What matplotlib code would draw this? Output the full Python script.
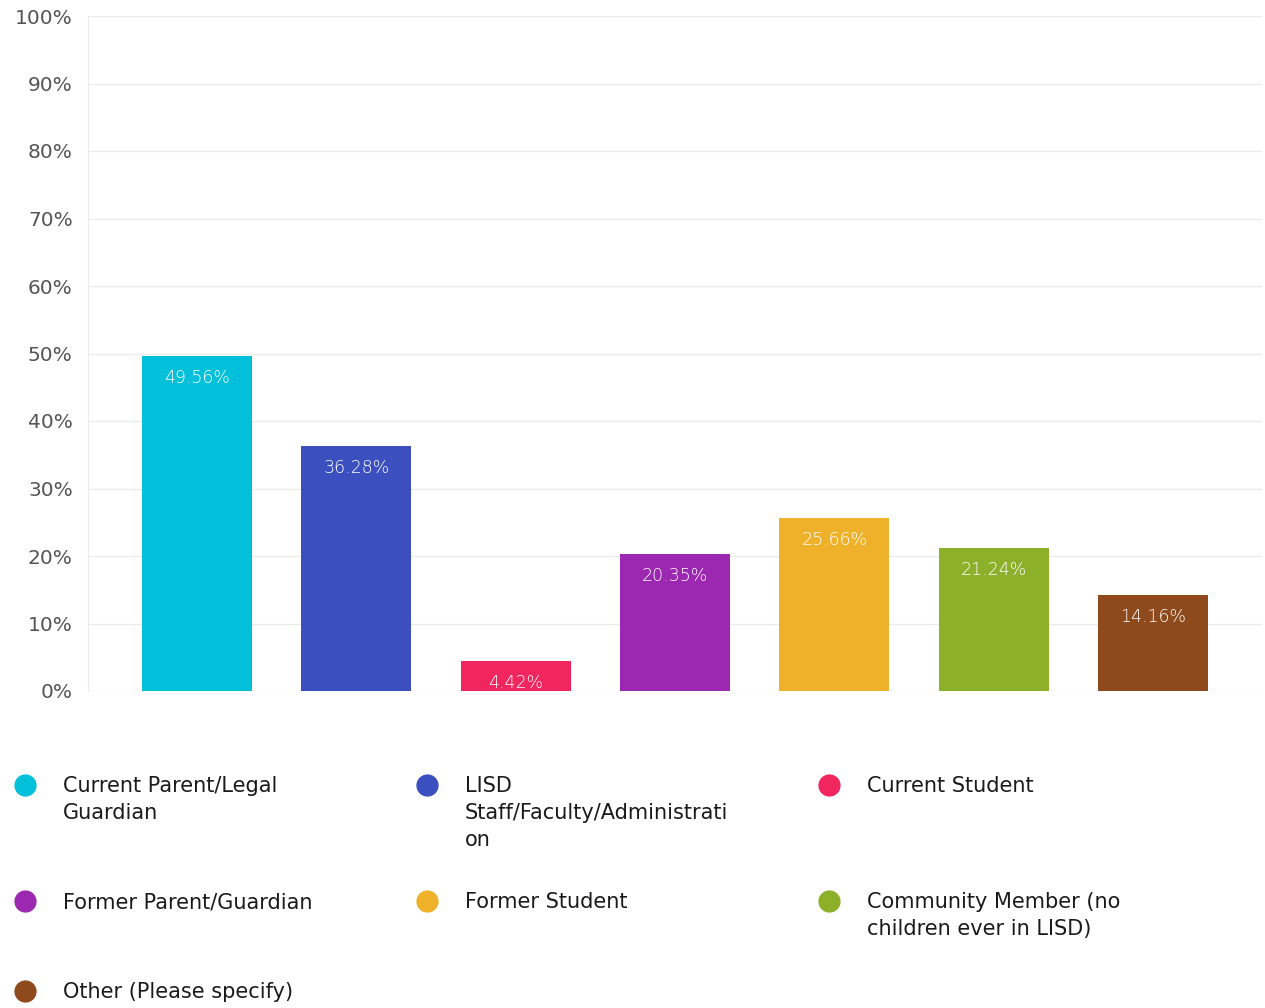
import matplotlib
matplotlib.use("Agg")
import matplotlib.pyplot as plt
from matplotlib.lines import Line2D

plt.rcParams["font.family"] = ["DejaVu Sans"]

categories = ["Current Parent/Legal\nGuardian",
              "LISD\nStaff/Faculty/Administrati\non",
              "Current Student",
              "Former Parent/Guardian",
              "Former Student",
              "Community Member (no\nchildren ever in LISD)",
              "Other (Please specify)"]
values = [49.56, 36.28, 4.42, 20.35, 25.66, 21.24, 14.16]
colors = ["#03C0DA", "#3B4FBF", "#F2265F", "#9C27B0", "#F0B12A", "#8DB02B", "#8E4A1C"]
yticks = [0, 10, 20, 30, 40, 50, 60, 70, 80, 90, 100]

W, H = 1265, 1008
fig = plt.figure(figsize=(W / 100, H / 100), dpi=100)
ax = fig.add_axes([88 / W, 1 - 691 / H, (1262 - 88) / W, (691 - 16) / H])

x = list(range(len(values)))
bars = ax.bar(x, values, width=0.69, color=colors, zorder=3)
for b, v in zip(bars, values):
    ax.annotate(f"{v:.2f}%", (b.get_x() + b.get_width() / 2, v),
                xytext=(0, -22), textcoords="offset pixels",
                ha="center", va="center", color="white", fontsize=12.5,
                fontweight="light", zorder=4)

ax.set_xlim(-0.684, 6.684)
ax.set_ylim(0, 100)
ax.set_yticks(yticks)
ax.set_yticklabels([f"{t}%" for t in yticks], fontsize=14.5, color="#555555")
ax.tick_params(axis="y", length=0, pad=11)
ax.set_xticks([])
ax.grid(axis="y", color="#EBEBEB", linewidth=1, zorder=0)
for s in ["top", "right", "bottom"]:
    ax.spines[s].set_visible(False)
ax.spines["left"].set_color("#EBEBEB")

# legend (manual, 3 columns)
col_x = [25, 427, 829]
row_y = [785, 901, 991]
for i, (lab, c) in enumerate(zip(categories, colors)):
    cx = col_x[i % 3]
    cy = row_y[i // 3]
    fig.add_artist(Line2D([cx / W], [1 - cy / H], marker="o", markersize=15,
                          color=c, linestyle="none", transform=fig.transFigure))
    fig.text((cx + 38) / W, 1 - (cy - 8.5) / H, lab, ha="left", va="top",
             fontsize=15, color="#1A1A1A", linespacing=1.42)

fig.savefig("out.png", dpi=100)
